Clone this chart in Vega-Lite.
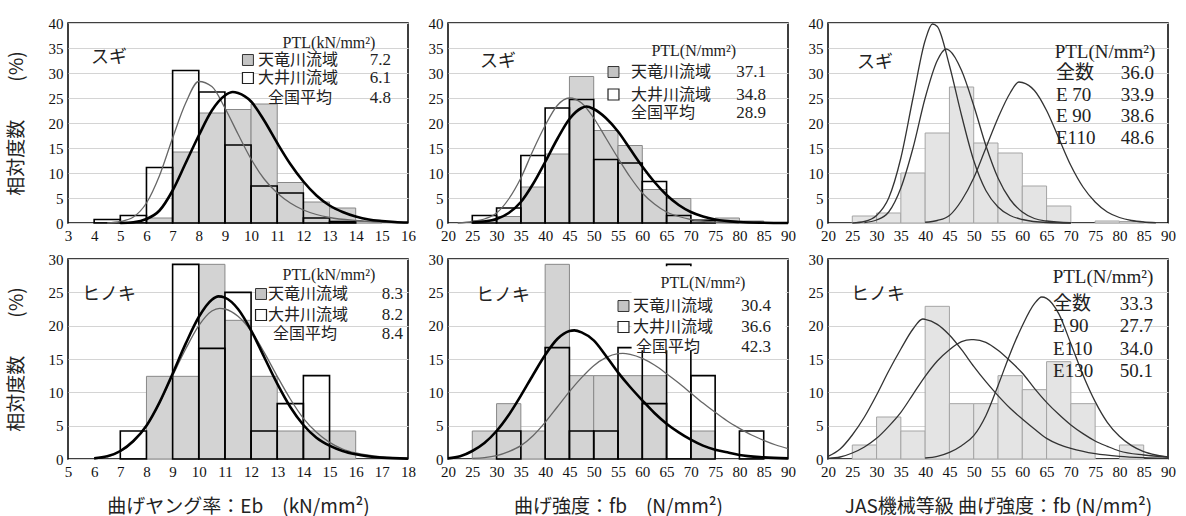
{
  "$schema": "https://vega.github.io/schema/vega-lite/v6.json",
  "padding": {"left": 6, "top": 15, "right": 5, "bottom": 0},
  "background": "white",
  "columns": 3,
  "spacing": {"row": 36, "column": 40},
  "bounds": "flush",
  "config": {
    "view": {"stroke": "black", "strokeWidth": 1.5},
    "axis": {"labelFont": "Liberation Serif", "labelFontSize": 15, "labelColor": "#111", "titleFont": "Noto Sans CJK JP", "titleFontSize": 19, "titleFontWeight": "normal", "titleColor": "#222", "domain": false, "ticks": false, "labelFlush": false, "labelOverlap": false, "gridColor": "#d4d4d4", "labelPadding": 5},
    "axisX": {"grid": false},
    "axisY": {"grid": true},
    "text": {"font": "Liberation Serif, Noto Sans CJK JP", "color": "#222", "baseline": "middle"}
  },
  "datasets": {
    "b1": [
      {"s":"T","x":6,"x2":7,"y":1.0},{"s":"T","x":7,"x2":8,"y":14.2},{"s":"T","x":8,"x2":9,"y":22.0},{"s":"T","x":9,"x2":10,"y":22.7},{"s":"T","x":10,"x2":11,"y":23.8},{"s":"T","x":11,"x2":12,"y":8.1},{"s":"T","x":12,"x2":13,"y":4.2},{"s":"T","x":13,"x2":14,"y":3.0},{"s":"T","x":14,"x2":15,"y":0.3},
      {"s":"O","x":4,"x2":5,"y":0.7},{"s":"O","x":5,"x2":6,"y":1.5},{"s":"O","x":6,"x2":7,"y":11.1},{"s":"O","x":7,"x2":8,"y":30.5},{"s":"O","x":8,"x2":9,"y":26.2},{"s":"O","x":9,"x2":10,"y":15.6},{"s":"O","x":10,"x2":11,"y":7.4},{"s":"O","x":11,"x2":12,"y":6.0},{"s":"O","x":12,"x2":13,"y":1.0},{"s":"O","x":13,"x2":14,"y":0.3}
    ],
    "c1": [
      {"s":"T","x":5,"y":0},{"s":"T","x":5.5,"y":0.15},{"s":"T","x":6,"y":0.8},{"s":"T","x":6.5,"y":2.5},{"s":"T","x":7,"y":6.5},{"s":"T","x":7.5,"y":12},{"s":"T","x":8,"y":17.5},{"s":"T","x":8.5,"y":22.5},{"s":"T","x":9,"y":25.5},{"s":"T","x":9.3,"y":26.2},{"s":"T","x":9.5,"y":26.0},{"s":"T","x":10,"y":24.3},{"s":"T","x":10.5,"y":20.5},{"s":"T","x":11,"y":16.0},{"s":"T","x":11.5,"y":11.8},{"s":"T","x":12,"y":8.3},{"s":"T","x":12.5,"y":5.5},{"s":"T","x":13,"y":3.5},{"s":"T","x":13.5,"y":2.2},{"s":"T","x":14,"y":1.3},{"s":"T","x":14.5,"y":0.7},{"s":"T","x":15,"y":0.4},{"s":"T","x":15.5,"y":0.2},{"s":"T","x":16,"y":0.1},
      {"s":"O","x":4.5,"y":0},{"s":"O","x":5,"y":0.3},{"s":"O","x":5.5,"y":1.2},{"s":"O","x":6,"y":4.0},{"s":"O","x":6.5,"y":9.5},{"s":"O","x":7,"y":17.0},{"s":"O","x":7.5,"y":24.0},{"s":"O","x":8,"y":28.3},{"s":"O","x":8.5,"y":27.3},{"s":"O","x":9,"y":23.0},{"s":"O","x":9.5,"y":17.8},{"s":"O","x":10,"y":12.8},{"s":"O","x":10.5,"y":8.8},{"s":"O","x":11,"y":6.0},{"s":"O","x":11.5,"y":4.0},{"s":"O","x":12,"y":2.6},{"s":"O","x":12.5,"y":1.7},{"s":"O","x":13,"y":1.1},{"s":"O","x":14,"y":0.5},{"s":"O","x":15,"y":0.2},{"s":"O","x":16,"y":0.05}
    ],
    "a1": [
      {"r":"sp","x":4.57,"y":33.0,"t":"スギ"},
      {"r":"hd","x":12.98,"y":36.0,"t":"PTL(kN/mm²)"},
      {"r":"symT","x":9.88,"y":32.6,"t":""},
      {"r":"symO","x":9.88,"y":29.0,"t":""},
      {"r":"lb","x":10.26,"y":32.6,"t":"天竜川流域"},
      {"r":"lb","x":10.26,"y":29.0,"t":"大井川流域"},
      {"r":"lb","x":10.65,"y":25.0,"t":"全国平均"},
      {"r":"vl","x":15.35,"y":32.6,"t":"7.2"},
      {"r":"vl","x":15.35,"y":29.0,"t":"6.1"},
      {"r":"vl","x":15.35,"y":25.0,"t":"4.8"}
    ],
    "b2": [
      {"s":"T","x":25,"x2":30,"y":0.5},{"s":"T","x":30,"x2":35,"y":1.3},{"s":"T","x":35,"x2":40,"y":7.2},{"s":"T","x":40,"x2":45,"y":13.8},{"s":"T","x":45,"x2":50,"y":29.3},{"s":"T","x":50,"x2":55,"y":18.5},{"s":"T","x":55,"x2":60,"y":15.5},{"s":"T","x":60,"x2":65,"y":6.7},{"s":"T","x":65,"x2":70,"y":4.9},{"s":"T","x":70,"x2":75,"y":0.7},{"s":"T","x":75,"x2":80,"y":1.0},{"s":"T","x":80,"x2":85,"y":0.4},
      {"s":"O","x":25,"x2":30,"y":1.5},{"s":"O","x":30,"x2":35,"y":3.0},{"s":"O","x":35,"x2":40,"y":13.5},{"s":"O","x":40,"x2":45,"y":23.0},{"s":"O","x":45,"x2":50,"y":24.7},{"s":"O","x":50,"x2":55,"y":12.7},{"s":"O","x":55,"x2":60,"y":12.0},{"s":"O","x":60,"x2":65,"y":8.3},{"s":"O","x":65,"x2":70,"y":1.5},{"s":"O","x":70,"x2":75,"y":0.5}
    ],
    "c2": [
      {"s":"T","x":25,"y":0.1},{"s":"T","x":27.5,"y":0.3},{"s":"T","x":30,"y":0.8},{"s":"T","x":32.5,"y":2.0},{"s":"T","x":35,"y":4.2},{"s":"T","x":37.5,"y":7.8},{"s":"T","x":40,"y":12.2},{"s":"T","x":42.5,"y":16.8},{"s":"T","x":45,"y":20.8},{"s":"T","x":47.5,"y":23.0},{"s":"T","x":48.5,"y":23.3},{"s":"T","x":50,"y":22.8},{"s":"T","x":52.5,"y":21.0},{"s":"T","x":55,"y":18.3},{"s":"T","x":57.5,"y":14.8},{"s":"T","x":60,"y":11.3},{"s":"T","x":62.5,"y":8.2},{"s":"T","x":65,"y":5.6},{"s":"T","x":67.5,"y":3.6},{"s":"T","x":70,"y":2.2},{"s":"T","x":72.5,"y":1.3},{"s":"T","x":75,"y":0.7},{"s":"T","x":80,"y":0.2},{"s":"T","x":85,"y":0.05},{"s":"T","x":90,"y":0},
      {"s":"O","x":22,"y":0},{"s":"O","x":25,"y":0.3},{"s":"O","x":27.5,"y":0.8},{"s":"O","x":30,"y":2.0},{"s":"O","x":32.5,"y":4.8},{"s":"O","x":35,"y":9.0},{"s":"O","x":37.5,"y":14.5},{"s":"O","x":40,"y":19.5},{"s":"O","x":42.5,"y":23.5},{"s":"O","x":45,"y":25.0},{"s":"O","x":47.5,"y":24.0},{"s":"O","x":50,"y":21.0},{"s":"O","x":52.5,"y":17.0},{"s":"O","x":55,"y":13.0},{"s":"O","x":57.5,"y":9.2},{"s":"O","x":60,"y":6.0},{"s":"O","x":62.5,"y":3.8},{"s":"O","x":65,"y":2.2},{"s":"O","x":67.5,"y":1.3},{"s":"O","x":70,"y":0.7},{"s":"O","x":75,"y":0.2},{"s":"O","x":80,"y":0.05}
    ],
    "a2": [
      {"r":"sp","x":30.3,"y":32.2,"t":"スギ"},
      {"r":"hd","x":70.6,"y":34.4,"t":"PTL(N/mm²)"},
      {"r":"symT","x":54.07,"y":30.2,"t":""},
      {"r":"symO","x":54.07,"y":25.7,"t":""},
      {"r":"lb","x":57.68,"y":30.2,"t":"天竜川流域"},
      {"r":"lb","x":57.68,"y":25.7,"t":"大井川流域"},
      {"r":"lb","x":57.68,"y":22.06,"t":"全国平均"},
      {"r":"vl","x":85.47,"y":30.2,"t":"37.1"},
      {"r":"vl","x":85.47,"y":25.7,"t":"34.8"},
      {"r":"vl","x":85.47,"y":22.06,"t":"28.9"}
    ],
    "b3": [
      {"x":25,"x2":30,"y":1.4},{"x":30,"x2":35,"y":2.0},{"x":35,"x2":40,"y":10.0},{"x":40,"x2":45,"y":18.0},{"x":45,"x2":50,"y":27.2},{"x":50,"x2":55,"y":16.0},{"x":55,"x2":60,"y":14.0},{"x":60,"x2":65,"y":7.4},{"x":65,"x2":70,"y":3.4},{"x":75,"x2":80,"y":0.4},{"x":80,"x2":85,"y":0.3}
    ],
    "c3": [
      {"s":"E70","x":25,"y":0},{"s":"E70","x":27.5,"y":0.3},{"s":"E70","x":30,"y":1.5},{"s":"E70","x":32.5,"y":5.0},{"s":"E70","x":35,"y":13.0},{"s":"E70","x":37.5,"y":25.0},{"s":"E70","x":40,"y":36.5},{"s":"E70","x":41.5,"y":39.8},{"s":"E70","x":42.5,"y":39.3},{"s":"E70","x":45,"y":31.5},{"s":"E70","x":47.5,"y":21.5},{"s":"E70","x":50,"y":12.5},{"s":"E70","x":52.5,"y":6.5},{"s":"E70","x":55,"y":3.2},{"s":"E70","x":57.5,"y":1.5},{"s":"E70","x":60,"y":0.7},{"s":"E70","x":65,"y":0.1},{"s":"E70","x":70,"y":0},
      {"s":"E90","x":27.5,"y":0.1},{"s":"E90","x":30,"y":0.6},{"s":"E90","x":32.5,"y":2.2},{"s":"E90","x":35,"y":7.0},{"s":"E90","x":37.5,"y":15.0},{"s":"E90","x":40,"y":25.0},{"s":"E90","x":42.5,"y":32.5},{"s":"E90","x":44.3,"y":34.8},{"s":"E90","x":45,"y":34.5},{"s":"E90","x":47.5,"y":30.5},{"s":"E90","x":50,"y":23.5},{"s":"E90","x":52.5,"y":15.5},{"s":"E90","x":55,"y":9.0},{"s":"E90","x":57.5,"y":4.7},{"s":"E90","x":60,"y":2.2},{"s":"E90","x":62.5,"y":0.9},{"s":"E90","x":65,"y":0.4},{"s":"E90","x":70,"y":0.05},
      {"s":"E110","x":40,"y":0.15},{"s":"E110","x":42.5,"y":0.5},{"s":"E110","x":45,"y":1.5},{"s":"E110","x":47.5,"y":4.5},{"s":"E110","x":50,"y":9.0},{"s":"E110","x":52.5,"y":15.0},{"s":"E110","x":55,"y":21.0},{"s":"E110","x":57.5,"y":26.0},{"s":"E110","x":59.3,"y":28.2},{"s":"E110","x":60,"y":28.1},{"s":"E110","x":62.5,"y":26.5},{"s":"E110","x":65,"y":22.5},{"s":"E110","x":67.5,"y":17.0},{"s":"E110","x":70,"y":11.5},{"s":"E110","x":72.5,"y":7.2},{"s":"E110","x":75,"y":4.2},{"s":"E110","x":77.5,"y":2.2},{"s":"E110","x":80,"y":1.1},{"s":"E110","x":82.5,"y":0.5},{"s":"E110","x":85,"y":0.2},{"s":"E110","x":87.5,"y":0.05}
    ],
    "a3": [
      {"r":"sp","x":29.68,"y":32.0,"t":"スギ"},
      {"r":"hd","x":77.03,"y":34.2,"t":"PTL(N/mm²)"},
      {"r":"lb","x":66.94,"y":30.1,"t":"全数"},
      {"r":"lb","x":66.94,"y":25.7,"t":"E 70"},
      {"r":"lb","x":66.94,"y":21.4,"t":"E 90"},
      {"r":"lb","x":66.94,"y":17.1,"t":"E110"},
      {"r":"vl","x":87.12,"y":30.1,"t":"36.0"},
      {"r":"vl","x":87.12,"y":25.7,"t":"33.9"},
      {"r":"vl","x":87.12,"y":21.4,"t":"38.6"},
      {"r":"vl","x":87.12,"y":17.1,"t":"48.6"}
    ],
    "b4": [
      {"s":"T","x":8,"x2":9,"y":12.4},{"s":"T","x":9,"x2":10,"y":12.4},{"s":"T","x":10,"x2":11,"y":29.2},{"s":"T","x":11,"x2":12,"y":20.8},{"s":"T","x":12,"x2":13,"y":12.4},{"s":"T","x":13,"x2":14,"y":4.2},{"s":"T","x":14,"x2":15,"y":4.2},{"s":"T","x":15,"x2":16,"y":4.2},
      {"s":"O","x":7,"x2":8,"y":4.2},{"s":"O","x":9,"x2":10,"y":29.2},{"s":"O","x":10,"x2":11,"y":16.6},{"s":"O","x":11,"x2":12,"y":25.0},{"s":"O","x":12,"x2":13,"y":4.2},{"s":"O","x":13,"x2":14,"y":8.3},{"s":"O","x":14,"x2":15,"y":12.5}
    ],
    "c4": [
      {"s":"T","x":6,"y":0.1},{"s":"T","x":6.5,"y":0.4},{"s":"T","x":7,"y":1.2},{"s":"T","x":7.5,"y":2.7},{"s":"T","x":8,"y":5.0},{"s":"T","x":8.5,"y":8.5},{"s":"T","x":9,"y":12.8},{"s":"T","x":9.5,"y":17.3},{"s":"T","x":10,"y":21.3},{"s":"T","x":10.5,"y":23.9},{"s":"T","x":10.75,"y":24.4},{"s":"T","x":11,"y":24.2},{"s":"T","x":11.5,"y":22.5},{"s":"T","x":12,"y":19.3},{"s":"T","x":12.5,"y":15.3},{"s":"T","x":13,"y":11.3},{"s":"T","x":13.5,"y":7.8},{"s":"T","x":14,"y":5.1},{"s":"T","x":14.5,"y":3.2},{"s":"T","x":15,"y":2.0},{"s":"T","x":15.5,"y":1.2},{"s":"T","x":16,"y":0.7},{"s":"T","x":17,"y":0.2},{"s":"T","x":18,"y":0.05},
      {"s":"O","x":6.5,"y":0.3},{"s":"O","x":7,"y":1.1},{"s":"O","x":7.5,"y":2.6},{"s":"O","x":8,"y":5.0},{"s":"O","x":8.5,"y":8.4},{"s":"O","x":9,"y":12.5},{"s":"O","x":9.5,"y":16.5},{"s":"O","x":10,"y":20.0},{"s":"O","x":10.5,"y":22.2},{"s":"O","x":10.8,"y":22.6},{"s":"O","x":11,"y":22.5},{"s":"O","x":11.5,"y":21.4},{"s":"O","x":12,"y":19.2},{"s":"O","x":12.5,"y":16.0},{"s":"O","x":13,"y":12.4},{"s":"O","x":13.5,"y":9.0},{"s":"O","x":14,"y":6.1},{"s":"O","x":14.5,"y":4.0},{"s":"O","x":15,"y":2.5},{"s":"O","x":15.5,"y":1.5},{"s":"O","x":16,"y":0.9},{"s":"O","x":17,"y":0.3},{"s":"O","x":18,"y":0.1}
    ],
    "a4": [
      {"r":"sp","x":6.57,"y":24.6,"t":"ヒノキ"},
      {"r":"hd","x":14.98,"y":27.6,"t":"PTL(kN/mm²)"},
      {"r":"symT","x":12.38,"y":24.75,"t":""},
      {"r":"symO","x":12.38,"y":21.6,"t":""},
      {"r":"lb","x":12.65,"y":24.75,"t":"天竜川流域"},
      {"r":"lb","x":12.65,"y":21.6,"t":"大井川流域"},
      {"r":"lb","x":12.84,"y":18.75,"t":"全国平均"},
      {"r":"vl","x":17.81,"y":24.75,"t":"8.3"},
      {"r":"vl","x":17.81,"y":21.6,"t":"8.2"},
      {"r":"vl","x":17.81,"y":18.75,"t":"8.4"}
    ],
    "b5": [
      {"s":"T","x":25,"x2":30,"y":4.2},{"s":"T","x":30,"x2":35,"y":8.3},{"s":"T","x":35,"x2":40,"y":4.2},{"s":"T","x":40,"x2":45,"y":29.2},{"s":"T","x":45,"x2":50,"y":12.5},{"s":"T","x":50,"x2":55,"y":12.5},{"s":"T","x":55,"x2":60,"y":12.5},{"s":"T","x":60,"x2":65,"y":12.5},{"s":"T","x":70,"x2":75,"y":4.2},
      {"s":"O","x":30,"x2":35,"y":4.2},{"s":"O","x":40,"x2":45,"y":16.7},{"s":"O","x":45,"x2":50,"y":4.2},{"s":"O","x":50,"x2":55,"y":4.2},{"s":"O","x":55,"x2":60,"y":16.7},{"s":"O","x":60,"x2":65,"y":8.3},{"s":"O","x":65,"x2":70,"y":29.2},{"s":"O","x":70,"x2":75,"y":12.5},{"s":"O","x":80,"x2":85,"y":4.2}
    ],
    "c5": [
      {"s":"T","x":20,"y":0.1},{"s":"T","x":22.5,"y":0.4},{"s":"T","x":25,"y":1.2},{"s":"T","x":27.5,"y":2.4},{"s":"T","x":30,"y":4.2},{"s":"T","x":32.5,"y":6.6},{"s":"T","x":35,"y":9.5},{"s":"T","x":37.5,"y":12.6},{"s":"T","x":40,"y":15.6},{"s":"T","x":42.5,"y":18.0},{"s":"T","x":45,"y":19.2},{"s":"T","x":46,"y":19.3},{"s":"T","x":47.5,"y":19.0},{"s":"T","x":50,"y":17.8},{"s":"T","x":52.5,"y":15.5},{"s":"T","x":55,"y":13.0},{"s":"T","x":57.5,"y":10.8},{"s":"T","x":60,"y":8.8},{"s":"T","x":62.5,"y":6.9},{"s":"T","x":65,"y":5.3},{"s":"T","x":67.5,"y":4.0},{"s":"T","x":70,"y":2.9},{"s":"T","x":72.5,"y":2.0},{"s":"T","x":75,"y":1.4},{"s":"T","x":77.5,"y":1.0},{"s":"T","x":80,"y":0.6},{"s":"T","x":85,"y":0.25},{"s":"T","x":90,"y":0.1},
      {"s":"O","x":25,"y":0.1},{"s":"O","x":27.5,"y":0.2},{"s":"O","x":30,"y":0.5},{"s":"O","x":32.5,"y":1.1},{"s":"O","x":35,"y":2.0},{"s":"O","x":37.5,"y":3.5},{"s":"O","x":40,"y":5.5},{"s":"O","x":42.5,"y":7.8},{"s":"O","x":45,"y":10.1},{"s":"O","x":47.5,"y":12.2},{"s":"O","x":50,"y":14.0},{"s":"O","x":52.5,"y":15.2},{"s":"O","x":55,"y":15.8},{"s":"O","x":56,"y":15.85},{"s":"O","x":57.5,"y":15.7},{"s":"O","x":60,"y":15.1},{"s":"O","x":62.5,"y":14.1},{"s":"O","x":65,"y":12.8},{"s":"O","x":67.5,"y":11.4},{"s":"O","x":70,"y":9.9},{"s":"O","x":72.5,"y":8.4},{"s":"O","x":75,"y":7.0},{"s":"O","x":77.5,"y":5.7},{"s":"O","x":80,"y":4.6},{"s":"O","x":82.5,"y":3.6},{"s":"O","x":85,"y":2.8},{"s":"O","x":87.5,"y":2.1},{"s":"O","x":90,"y":1.55}
    ],
    "box5": [{"x":57.8,"x2":89.5,"y":28.9,"y2":16.3}],
    "a5": [
      {"r":"sp","x":31.32,"y":24.45,"t":"ヒノキ"},
      {"r":"hd","x":72.5,"y":26.4,"t":"PTL(N/mm²)"},
      {"r":"symT","x":56.13,"y":22.95,"t":""},
      {"r":"symO","x":56.13,"y":19.8,"t":""},
      {"r":"lb","x":58.1,"y":22.95,"t":"天竜川流域"},
      {"r":"lb","x":58.1,"y":19.8,"t":"大井川流域"},
      {"r":"lb","x":58.7,"y":16.8,"t":"全国平均"},
      {"r":"vl","x":86.5,"y":22.95,"t":"30.4"},
      {"r":"vl","x":86.5,"y":19.8,"t":"36.6"},
      {"r":"vl","x":86.5,"y":16.8,"t":"42.3"}
    ],
    "b6": [
      {"x":25,"x2":30,"y":2.1},{"x":30,"x2":35,"y":6.3},{"x":35,"x2":40,"y":4.2},{"x":40,"x2":45,"y":22.9},{"x":45,"x2":50,"y":8.3},{"x":50,"x2":55,"y":8.3},{"x":55,"x2":60,"y":12.5},{"x":60,"x2":65,"y":10.4},{"x":65,"x2":70,"y":14.6},{"x":70,"x2":75,"y":8.3},{"x":80,"x2":85,"y":2.1}
    ],
    "c6": [
      {"s":"E90","x":20,"y":0.4},{"s":"E90","x":22.5,"y":1.5},{"s":"E90","x":25,"y":3.6},{"s":"E90","x":27.5,"y":6.3},{"s":"E90","x":30,"y":9.6},{"s":"E90","x":32.5,"y":13.2},{"s":"E90","x":35,"y":16.5},{"s":"E90","x":37.5,"y":19.5},{"s":"E90","x":39.5,"y":21.0},{"s":"E90","x":40,"y":20.95},{"s":"E90","x":42.5,"y":20.2},{"s":"E90","x":45,"y":18.6},{"s":"E90","x":47.5,"y":16.4},{"s":"E90","x":50,"y":13.9},{"s":"E90","x":52.5,"y":11.6},{"s":"E90","x":55,"y":9.5},{"s":"E90","x":57.5,"y":7.6},{"s":"E90","x":60,"y":6.0},{"s":"E90","x":62.5,"y":4.5},{"s":"E90","x":65,"y":3.1},{"s":"E90","x":67.5,"y":2.2},{"s":"E90","x":70,"y":1.6},{"s":"E90","x":75,"y":0.8},{"s":"E90","x":80,"y":0.4},{"s":"E90","x":85,"y":0.2},{"s":"E90","x":90,"y":0.1},
      {"s":"E110","x":20,"y":0.1},{"s":"E110","x":22.5,"y":0.3},{"s":"E110","x":25,"y":0.9},{"s":"E110","x":27.5,"y":1.8},{"s":"E110","x":30,"y":3.1},{"s":"E110","x":32.5,"y":4.9},{"s":"E110","x":35,"y":7.0},{"s":"E110","x":37.5,"y":9.7},{"s":"E110","x":40,"y":12.4},{"s":"E110","x":42.5,"y":14.7},{"s":"E110","x":45,"y":16.4},{"s":"E110","x":47.5,"y":17.6},{"s":"E110","x":49.5,"y":17.9},{"s":"E110","x":50,"y":17.9},{"s":"E110","x":52.5,"y":17.5},{"s":"E110","x":55,"y":16.3},{"s":"E110","x":57.5,"y":14.7},{"s":"E110","x":60,"y":12.9},{"s":"E110","x":62.5,"y":10.6},{"s":"E110","x":65,"y":8.5},{"s":"E110","x":67.5,"y":6.7},{"s":"E110","x":70,"y":5.1},{"s":"E110","x":72.5,"y":3.8},{"s":"E110","x":75,"y":2.7},{"s":"E110","x":77.5,"y":1.9},{"s":"E110","x":80,"y":1.2},{"s":"E110","x":85,"y":0.6},{"s":"E110","x":90,"y":0.3},
      {"s":"E130","x":40,"y":0.15},{"s":"E130","x":42.5,"y":0.4},{"s":"E130","x":45,"y":1.0},{"s":"E130","x":47.5,"y":2.0},{"s":"E130","x":50,"y":3.5},{"s":"E130","x":52.5,"y":6.5},{"s":"E130","x":55,"y":11.0},{"s":"E130","x":57.5,"y":15.8},{"s":"E130","x":60,"y":20.0},{"s":"E130","x":62.5,"y":23.3},{"s":"E130","x":64,"y":24.3},{"s":"E130","x":65,"y":24.1},{"s":"E130","x":67.5,"y":21.8},{"s":"E130","x":70,"y":17.3},{"s":"E130","x":72.5,"y":12.6},{"s":"E130","x":75,"y":8.6},{"s":"E130","x":77.5,"y":5.5},{"s":"E130","x":80,"y":3.4},{"s":"E130","x":82.5,"y":2.0},{"s":"E130","x":85,"y":1.1},{"s":"E130","x":87.5,"y":0.6},{"s":"E130","x":90,"y":0.3}
    ],
    "a6": [
      {"r":"sp","x":30.29,"y":24.6,"t":"ヒノキ"},
      {"r":"hd","x":76.62,"y":27.3,"t":"PTL(N/mm²)"},
      {"r":"lb","x":66.33,"y":23.2,"t":"全数"},
      {"r":"lb","x":66.33,"y":19.95,"t":"E 90"},
      {"r":"lb","x":66.33,"y":16.5,"t":"E110"},
      {"r":"lb","x":66.33,"y":13.2,"t":"E130"},
      {"r":"vl","x":86.91,"y":23.2,"t":"33.3"},
      {"r":"vl","x":86.91,"y":19.95,"t":"27.7"},
      {"r":"vl","x":86.91,"y":16.5,"t":"34.0"},
      {"r":"vl","x":86.91,"y":13.2,"t":"50.1"}
    ]
  },
  "concat": [
    {
      "width": 340, "height": 200,
      "encoding": {
        "x": {"field": "x", "type": "quantitative", "scale": {"domain": [3, 16], "nice": false, "zero": false}, "axis": {"values": [3,4,5,6,7,8,9,10,11,12,13,14,15,16], "title": null}},
        "y": {"field": "y", "type": "quantitative", "scale": {"domain": [0, 40], "nice": false}, "axis": {"values": [0,5,10,15,20,25,30,35,40], "title": "相対度数　　(%)", "titlePadding": 22}}
      },
      "layer": [
        {"data": {"name": "b1"}, "transform": [{"filter": "datum.s==='T'"}], "mark": {"type": "rect", "fill": "#d3d3d3", "stroke": "#888", "strokeWidth": 1}, "encoding": {"x2": {"field": "x2"}, "y2": {"datum": 0}}},
        {"data": {"name": "b1"}, "transform": [{"filter": "datum.s==='O'"}], "mark": {"type": "rect", "fill": "white", "fillOpacity": 0, "stroke": "black", "strokeWidth": 1.6}, "encoding": {"x2": {"field": "x2"}, "y2": {"datum": 0}}},
        {"data": {"name": "c1"}, "transform": [{"filter": "datum.s==='O'"}], "mark": {"type": "line", "interpolate": "monotone", "stroke": "#666", "strokeWidth": 1.3}, "encoding": {}},
        {"data": {"name": "c1"}, "transform": [{"filter": "datum.s==='T'"}], "mark": {"type": "line", "interpolate": "monotone", "stroke": "black", "strokeWidth": 2.6}, "encoding": {}},
        {"data": {"name": "a1"}, "transform": [{"filter": "datum.r==='symT'"}], "mark": {"type": "point", "shape": "square", "filled": true, "size": 120, "fill": "#c4c4c4", "stroke": "#333", "strokeWidth": 1, "opacity": 1}},
        {"data": {"name": "a1"}, "transform": [{"filter": "datum.r==='symO'"}], "mark": {"type": "point", "shape": "square", "filled": true, "size": 120, "fill": "white", "stroke": "#222", "strokeWidth": 1.2, "opacity": 1}},
        {"data": {"name": "a1"}, "transform": [{"filter": "datum.r==='sp'"}], "mark": {"type": "text", "font": "Noto Sans CJK JP", "fontSize": 18, "align": "center"}, "encoding": {"text": {"field": "t"}}},
        {"data": {"name": "a1"}, "transform": [{"filter": "datum.r==='hd'"}], "mark": {"type": "text", "fontSize": 16, "align": "center"}, "encoding": {"text": {"field": "t"}}},
        {"data": {"name": "a1"}, "transform": [{"filter": "datum.r==='lb'"}], "mark": {"type": "text", "fontSize": 16, "align": "left"}, "encoding": {"text": {"field": "t"}}},
        {"data": {"name": "a1"}, "transform": [{"filter": "datum.r==='vl'"}], "mark": {"type": "text", "fontSize": 17, "align": "right"}, "encoding": {"text": {"field": "t"}}}
      ]
    },
    {
      "width": 340, "height": 200,
      "encoding": {
        "x": {"field": "x", "type": "quantitative", "scale": {"domain": [20, 90], "nice": false, "zero": false}, "axis": {"values": [20,25,30,35,40,45,50,55,60,65,70,75,80,85,90], "title": null}},
        "y": {"field": "y", "type": "quantitative", "scale": {"domain": [0, 40], "nice": false}, "axis": {"values": [0,5,10,15,20,25,30,35,40], "title": null}}
      },
      "layer": [
        {"data": {"name": "b2"}, "transform": [{"filter": "datum.s==='T'"}], "mark": {"type": "rect", "fill": "#d3d3d3", "stroke": "#888", "strokeWidth": 1}, "encoding": {"x2": {"field": "x2"}, "y2": {"datum": 0}}},
        {"data": {"name": "b2"}, "transform": [{"filter": "datum.s==='O'"}], "mark": {"type": "rect", "fill": "white", "fillOpacity": 0, "stroke": "black", "strokeWidth": 1.6}, "encoding": {"x2": {"field": "x2"}, "y2": {"datum": 0}}},
        {"data": {"name": "c2"}, "transform": [{"filter": "datum.s==='O'"}], "mark": {"type": "line", "interpolate": "monotone", "stroke": "#666", "strokeWidth": 1.3}, "encoding": {}},
        {"data": {"name": "c2"}, "transform": [{"filter": "datum.s==='T'"}], "mark": {"type": "line", "interpolate": "monotone", "stroke": "black", "strokeWidth": 2.6}, "encoding": {}},
        {"data": {"name": "a2"}, "transform": [{"filter": "datum.r==='symT'"}], "mark": {"type": "point", "shape": "square", "filled": true, "size": 120, "fill": "#c4c4c4", "stroke": "#333", "strokeWidth": 1, "opacity": 1}},
        {"data": {"name": "a2"}, "transform": [{"filter": "datum.r==='symO'"}], "mark": {"type": "point", "shape": "square", "filled": true, "size": 120, "fill": "white", "stroke": "#222", "strokeWidth": 1.2, "opacity": 1}},
        {"data": {"name": "a2"}, "transform": [{"filter": "datum.r==='sp'"}], "mark": {"type": "text", "font": "Noto Sans CJK JP", "fontSize": 18, "align": "center"}, "encoding": {"text": {"field": "t"}}},
        {"data": {"name": "a2"}, "transform": [{"filter": "datum.r==='hd'"}], "mark": {"type": "text", "fontSize": 16, "align": "center"}, "encoding": {"text": {"field": "t"}}},
        {"data": {"name": "a2"}, "transform": [{"filter": "datum.r==='lb'"}], "mark": {"type": "text", "fontSize": 16, "align": "left"}, "encoding": {"text": {"field": "t"}}},
        {"data": {"name": "a2"}, "transform": [{"filter": "datum.r==='vl'"}], "mark": {"type": "text", "fontSize": 17, "align": "right"}, "encoding": {"text": {"field": "t"}}}
      ]
    },
    {
      "width": 340, "height": 200,
      "encoding": {
        "x": {"field": "x", "type": "quantitative", "scale": {"domain": [20, 90], "nice": false, "zero": false}, "axis": {"values": [20,25,30,35,40,45,50,55,60,65,70,75,80,85,90], "title": null}},
        "y": {"field": "y", "type": "quantitative", "scale": {"domain": [0, 40], "nice": false}, "axis": {"values": [0,5,10,15,20,25,30,35,40], "title": null}}
      },
      "layer": [
        {"data": {"name": "b3"}, "mark": {"type": "rect", "fill": "#e4e4e4", "stroke": "#a5a5a5", "strokeWidth": 1}, "encoding": {"x2": {"field": "x2"}, "y2": {"datum": 0}}},
        {"data": {"name": "c3"}, "mark": {"type": "line", "interpolate": "monotone", "stroke": "#333", "strokeWidth": 1.3}, "encoding": {"detail": {"field": "s"}}},
        {"data": {"name": "a3"}, "transform": [{"filter": "datum.r==='sp'"}], "mark": {"type": "text", "font": "Noto Sans CJK JP", "fontSize": 18, "align": "center"}, "encoding": {"text": {"field": "t"}}},
        {"data": {"name": "a3"}, "transform": [{"filter": "datum.r==='hd'"}], "mark": {"type": "text", "fontSize": 19, "align": "center"}, "encoding": {"text": {"field": "t"}}},
        {"data": {"name": "a3"}, "transform": [{"filter": "datum.r==='lb'"}], "mark": {"type": "text", "fontSize": 19, "align": "left"}, "encoding": {"text": {"field": "t"}}},
        {"data": {"name": "a3"}, "transform": [{"filter": "datum.r==='vl'"}], "mark": {"type": "text", "fontSize": 19, "align": "right"}, "encoding": {"text": {"field": "t"}}}
      ]
    },
    {
      "width": 340, "height": 200,
      "encoding": {
        "x": {"field": "x", "type": "quantitative", "scale": {"domain": [5, 18], "nice": false, "zero": false}, "axis": {"values": [5,6,7,8,9,10,11,12,13,14,15,16,17,18], "title": "曲げヤング率：Eb　(kN/mm²)", "titlePadding": 18}},
        "y": {"field": "y", "type": "quantitative", "scale": {"domain": [0, 30], "nice": false}, "axis": {"values": [0,5,10,15,20,25,30], "title": "相対度数　　(%)", "titlePadding": 22}}
      },
      "layer": [
        {"data": {"name": "b4"}, "transform": [{"filter": "datum.s==='T'"}], "mark": {"type": "rect", "fill": "#d3d3d3", "stroke": "#888", "strokeWidth": 1}, "encoding": {"x2": {"field": "x2"}, "y2": {"datum": 0}}},
        {"data": {"name": "b4"}, "transform": [{"filter": "datum.s==='O'"}], "mark": {"type": "rect", "fill": "white", "fillOpacity": 0, "stroke": "black", "strokeWidth": 1.6}, "encoding": {"x2": {"field": "x2"}, "y2": {"datum": 0}}},
        {"data": {"name": "c4"}, "transform": [{"filter": "datum.s==='O'"}], "mark": {"type": "line", "interpolate": "monotone", "stroke": "#666", "strokeWidth": 1.3}, "encoding": {}},
        {"data": {"name": "c4"}, "transform": [{"filter": "datum.s==='T'"}], "mark": {"type": "line", "interpolate": "monotone", "stroke": "black", "strokeWidth": 2.6}, "encoding": {}},
        {"data": {"name": "a4"}, "transform": [{"filter": "datum.r==='symT'"}], "mark": {"type": "point", "shape": "square", "filled": true, "size": 120, "fill": "#c4c4c4", "stroke": "#333", "strokeWidth": 1, "opacity": 1}},
        {"data": {"name": "a4"}, "transform": [{"filter": "datum.r==='symO'"}], "mark": {"type": "point", "shape": "square", "filled": true, "size": 120, "fill": "white", "stroke": "#222", "strokeWidth": 1.2, "opacity": 1}},
        {"data": {"name": "a4"}, "transform": [{"filter": "datum.r==='sp'"}], "mark": {"type": "text", "font": "Noto Sans CJK JP", "fontSize": 18, "align": "center"}, "encoding": {"text": {"field": "t"}}},
        {"data": {"name": "a4"}, "transform": [{"filter": "datum.r==='hd'"}], "mark": {"type": "text", "fontSize": 16, "align": "center"}, "encoding": {"text": {"field": "t"}}},
        {"data": {"name": "a4"}, "transform": [{"filter": "datum.r==='lb'"}], "mark": {"type": "text", "fontSize": 16, "align": "left"}, "encoding": {"text": {"field": "t"}}},
        {"data": {"name": "a4"}, "transform": [{"filter": "datum.r==='vl'"}], "mark": {"type": "text", "fontSize": 17, "align": "right"}, "encoding": {"text": {"field": "t"}}}
      ]
    },
    {
      "width": 340, "height": 200,
      "encoding": {
        "x": {"field": "x", "type": "quantitative", "scale": {"domain": [20, 90], "nice": false, "zero": false}, "axis": {"values": [20,25,30,35,40,45,50,55,60,65,70,75,80,85,90], "title": "曲げ強度：fb　(N/mm²)", "titlePadding": 18}},
        "y": {"field": "y", "type": "quantitative", "scale": {"domain": [0, 30], "nice": false}, "axis": {"values": [0,5,10,15,20,25,30], "title": null}}
      },
      "layer": [
        {"data": {"name": "b5"}, "transform": [{"filter": "datum.s==='T'"}], "mark": {"type": "rect", "fill": "#d3d3d3", "stroke": "#888", "strokeWidth": 1}, "encoding": {"x2": {"field": "x2"}, "y2": {"datum": 0}}},
        {"data": {"name": "b5"}, "transform": [{"filter": "datum.s==='O'"}], "mark": {"type": "rect", "fill": "white", "fillOpacity": 0, "stroke": "black", "strokeWidth": 1.6}, "encoding": {"x2": {"field": "x2"}, "y2": {"datum": 0}}},
        {"data": {"name": "c5"}, "transform": [{"filter": "datum.s==='O'"}], "mark": {"type": "line", "interpolate": "monotone", "stroke": "#666", "strokeWidth": 1.3}, "encoding": {}},
        {"data": {"name": "c5"}, "transform": [{"filter": "datum.s==='T'"}], "mark": {"type": "line", "interpolate": "monotone", "stroke": "black", "strokeWidth": 2.6}, "encoding": {}},
        {"data": {"name": "box5"}, "mark": {"type": "rect", "fill": "white", "strokeWidth": 0}, "encoding": {"x2": {"field": "x2"}, "y2": {"field": "y2"}}},
        {"data": {"name": "a5"}, "transform": [{"filter": "datum.r==='symT'"}], "mark": {"type": "point", "shape": "square", "filled": true, "size": 120, "fill": "#c4c4c4", "stroke": "#333", "strokeWidth": 1, "opacity": 1}},
        {"data": {"name": "a5"}, "transform": [{"filter": "datum.r==='symO'"}], "mark": {"type": "point", "shape": "square", "filled": true, "size": 120, "fill": "white", "stroke": "#222", "strokeWidth": 1.2, "opacity": 1}},
        {"data": {"name": "a5"}, "transform": [{"filter": "datum.r==='sp'"}], "mark": {"type": "text", "font": "Noto Sans CJK JP", "fontSize": 18, "align": "center"}, "encoding": {"text": {"field": "t"}}},
        {"data": {"name": "a5"}, "transform": [{"filter": "datum.r==='hd'"}], "mark": {"type": "text", "fontSize": 16, "align": "center"}, "encoding": {"text": {"field": "t"}}},
        {"data": {"name": "a5"}, "transform": [{"filter": "datum.r==='lb'"}], "mark": {"type": "text", "fontSize": 16, "align": "left"}, "encoding": {"text": {"field": "t"}}},
        {"data": {"name": "a5"}, "transform": [{"filter": "datum.r==='vl'"}], "mark": {"type": "text", "fontSize": 17, "align": "right"}, "encoding": {"text": {"field": "t"}}}
      ]
    },
    {
      "width": 340, "height": 200,
      "encoding": {
        "x": {"field": "x", "type": "quantitative", "scale": {"domain": [20, 90], "nice": false, "zero": false}, "axis": {"values": [20,25,30,35,40,45,50,55,60,65,70,75,80,85,90], "title": "JAS機械等級 曲げ強度：fb (N/mm²)", "titlePadding": 18}},
        "y": {"field": "y", "type": "quantitative", "scale": {"domain": [0, 30], "nice": false}, "axis": {"values": [0,5,10,15,20,25,30], "title": null}}
      },
      "layer": [
        {"data": {"name": "b6"}, "mark": {"type": "rect", "fill": "#e4e4e4", "stroke": "#a5a5a5", "strokeWidth": 1}, "encoding": {"x2": {"field": "x2"}, "y2": {"datum": 0}}},
        {"data": {"name": "c6"}, "mark": {"type": "line", "interpolate": "monotone", "stroke": "#333", "strokeWidth": 1.3}, "encoding": {"detail": {"field": "s"}}},
        {"data": {"name": "a6"}, "transform": [{"filter": "datum.r==='sp'"}], "mark": {"type": "text", "font": "Noto Sans CJK JP", "fontSize": 18, "align": "center"}, "encoding": {"text": {"field": "t"}}},
        {"data": {"name": "a6"}, "transform": [{"filter": "datum.r==='hd'"}], "mark": {"type": "text", "fontSize": 19, "align": "center"}, "encoding": {"text": {"field": "t"}}},
        {"data": {"name": "a6"}, "transform": [{"filter": "datum.r==='lb'"}], "mark": {"type": "text", "fontSize": 19, "align": "left"}, "encoding": {"text": {"field": "t"}}},
        {"data": {"name": "a6"}, "transform": [{"filter": "datum.r==='vl'"}], "mark": {"type": "text", "fontSize": 19, "align": "right"}, "encoding": {"text": {"field": "t"}}}
      ]
    }
  ]
}
